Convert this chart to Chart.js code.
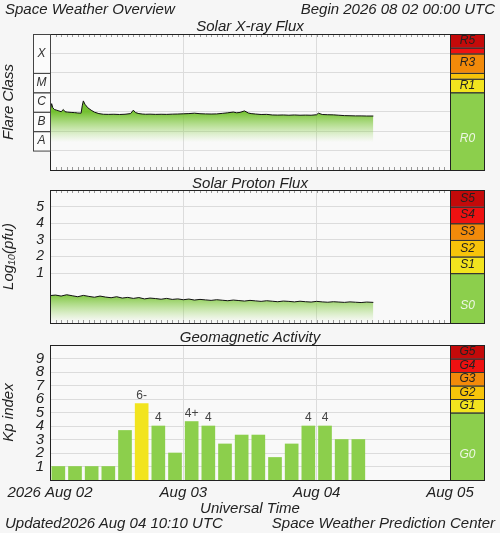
<!DOCTYPE html>
<html><head><meta charset="utf-8">
<script src="https://cdn.jsdelivr.net/npm/chart.js@4"></script>
<style>
body{margin:0;background:#f6f6f6;width:500px;height:533px;overflow:hidden;position:relative;font-family:"Liberation Sans",Arial,sans-serif;font-style:italic;color:#222}
canvas{position:absolute;left:0;top:0}
.t{position:absolute;white-space:nowrap;font-size:15px}
.c{transform:translateX(-50%)}
</style></head><body>
<canvas id="c1" width="500" height="533"></canvas>
<canvas id="c2" width="500" height="533"></canvas>
<canvas id="c3" width="500" height="533"></canvas>
<div class="t" style="left:5px;top:0px">Space Weather Overview</div>
<div class="t" style="right:5px;top:0px">Begin 2026 08 02 00:00 UTC</div>
<div class="t c" style="left:250px;top:17px">Solar X-ray Flux</div>
<div class="t c" style="left:250px;top:174px">Solar Proton Flux</div>
<div class="t c" style="left:250px;top:328px">Geomagnetic Activity</div>
<div class="t c" style="left:250px;top:499px">Universal Time</div>
<div class="t" style="left:5px;top:514px">Updated2026 Aug 04 10:10 UTC</div>
<div class="t" style="right:5px;top:514px">Space Weather Prediction Center</div>
<script>
// ---------- data ----------
const xrayHours = [0,0.3,0.5,0.8,1.2,1.6,2.0,2.4,2.7,3.2,3.8,4.4,5.0,5.6,5.8,6.0,6.3,6.8,7.4,8.0,8.8,9.6,10.5,11.5,12.5,13.5,14.5,15.0,15.4,16.0,16.6,17.2,18.0,19.0,20.0,21.0,22.0,23.0,24.0,25.0,26.0,27.0,28.0,29.0,30.0,31.0,32.0,33.0,33.6,34.2,35.0,35.7,36.2,37.0,38.0,39.0,40.0,41.0,42.0,43.0,44.0,45.0,46.0,47.0,48.0,48.3,49.0,50.0,51.0,52.0,53.0,54.0,55.0,56.0,57.0,58.2];
const xrayFlux = [1.1e-6,2.6e-6,1.6e-6,1.3e-6,1.2e-6,1.1e-6,1.0e-6,1.3e-6,1.0e-6,9.5e-7,9.2e-7,9.0e-7,8.6e-7,8.4e-7,2.0e-6,3.6e-6,2.4e-6,1.6e-6,1.2e-6,9.5e-7,8.0e-7,7.4e-7,7.3e-7,7.4e-7,7.2e-7,7.4e-7,8.0e-7,1.2e-6,9.0e-7,8.0e-7,7.6e-7,7.4e-7,7.5e-7,7.3e-7,7.4e-7,7.3e-7,7.5e-7,7.6e-7,7.8e-7,8.0e-7,8.4e-7,7.9e-7,7.7e-7,7.6e-7,7.7e-7,8.2e-7,8.8e-7,9.6e-7,8.8e-7,9.2e-7,1.1e-6,8.6e-7,8.0e-7,7.6e-7,7.2e-7,7.3e-7,6.8e-7,6.7e-7,6.8e-7,6.6e-7,6.8e-7,6.6e-7,6.7e-7,6.6e-7,7.0e-7,8.4e-7,7.2e-7,7.0e-7,6.9e-7,6.6e-7,6.3e-7,6.2e-7,6.1e-7,6.1e-7,6.0e-7,6.0e-7];
const protonHours = [0,1,2,3,4,5,6,7,8,9,10,11,12,13,14,15,16,17,18,19,20,21,22,23,24,25,26,27,28,29,30,31,32,33,34,35,36,37,38,39,40,41,42,43,44,45,46,47,48,49,50,51,52,53,54,55,56,57,58.2];
const protonLog = [-0.35,-0.32,-0.38,-0.30,-0.36,-0.42,-0.34,-0.40,-0.45,-0.38,-0.44,-0.48,-0.42,-0.50,-0.46,-0.52,-0.47,-0.55,-0.50,-0.53,-0.57,-0.52,-0.58,-0.55,-0.60,-0.56,-0.62,-0.58,-0.61,-0.64,-0.60,-0.63,-0.66,-0.62,-0.65,-0.68,-0.64,-0.67,-0.70,-0.66,-0.69,-0.72,-0.68,-0.70,-0.73,-0.69,-0.72,-0.74,-0.70,-0.73,-0.75,-0.72,-0.74,-0.76,-0.73,-0.75,-0.77,-0.74,-0.76];
const kpValues = [1,1,1,1,3.67,5.67,4,2,4.33,4,2.67,3.33,3.33,1.67,2.67,4,4,3,3];
const kpLabels = ["","","","","","6-","4","","4+","4","","","","","","4","4","",""];
const dayTicks = [0,24,48,72];
const dayLabels = ["2026 Aug 02","Aug 03","Aug 04","Aug 05"];
const flareClasses = ["A","B","C","M","X"];
const flareFrom = [1e-8,1e-7,1e-6,1e-5,1e-4];
const flareTo = [1e-7,1e-6,1e-5,1e-4,1e-2];
const rLabels = ["R0","R1","","R3","","R5"];
const rFrom = [1e-9,1e-5,5e-5,1e-4,1e-3,2e-3];
const rTo = [1e-5,5e-5,1e-4,1e-3,2e-3,1e-2];
const sLabels = ["S0","S1","S2","S3","S4","S5"];
const sFrom = [-2,1,2,3,4,5];
const sTo = [1,2,3,4,5,6];
const gLabels = ["G0","G1","G2","G3","G4","G5"];
const gFrom = [0,5,6,7,8,9];
const gTo = [5,6,7,8,9,10];
const bandColors = ["#8ccf4c","#f2e41e","#f7c40a","#f28a0a","#ee1111","#c40a0a"];

const FONT = {family:"'Liberation Sans', Arial, sans-serif", style:'italic'};
Chart.defaults.font.family = FONT.family;
Chart.defaults.animation = false;

const framePlugin = {
  id:'frame',
  beforeDraw(c){
    const a=c.chartArea, ctx=c.ctx;
    ctx.save(); ctx.fillStyle='#f9f9f9'; ctx.fillRect(a.left,a.top,a.width,a.height); ctx.restore();
  },
  afterDraw(c, args, o){
    const a=c.chartArea, ctx=c.ctx, y=c.scales.y, x=c.scales.x;
    ctx.save();
    if(o.hourTicks){
      ctx.strokeStyle='#999'; ctx.lineWidth=1;
      for(let h=1;h<72;h++){
        const px=Math.round(x.getPixelForValue(h))+0.5;
        ctx.beginPath(); ctx.moveTo(px,a.top); ctx.lineTo(px,a.top+3);
        ctx.moveTo(px,a.bottom); ctx.lineTo(px,a.bottom-3); ctx.stroke();
      }
    }
    const bx=a.right, bw=35;
    for(let i=0;i<o.from.length;i++){
      const y1=y.getPixelForValue(o.to[i]), y0=y.getPixelForValue(o.from[i]);
      const t=Math.max(y1,a.top), b=Math.min(y0,a.bottom);
      ctx.fillStyle=bandColors[i]; ctx.fillRect(bx,t,bw,b-t);
      ctx.strokeStyle='#333'; ctx.lineWidth=1; ctx.strokeRect(bx+0.5,t+0.5,bw-1,b-t);
      if(o.labels[i]){
        ctx.fillStyle=i===0?'#eef7e4':'#222'; ctx.font='italic 12px '+FONT.family;
        ctx.textAlign='center'; ctx.textBaseline='middle';
        ctx.fillText(o.labels[i],bx+bw/2,(t+b)/2+(i===0?8:0));
      }
    }
    ctx.strokeStyle='#222'; ctx.lineWidth=1;
    ctx.strokeRect(bx+0.5,a.top+0.5,bw-1,a.height);
    ctx.strokeRect(a.left+0.5,a.top+0.5,a.width,a.height);
    if(o.classes){
      ctx.font='italic 12px '+FONT.family; ctx.textAlign='center'; ctx.textBaseline='middle';
      for(let i=0;i<flareClasses.length;i++){
        const t=Math.max(y.getPixelForValue(flareTo[i]),a.top), b=y.getPixelForValue(flareFrom[i]);
        ctx.fillStyle='#fbfbfb'; ctx.fillRect(a.left-17,t,17,b-t);
        ctx.strokeStyle='#444'; ctx.strokeRect(a.left-17+0.5,t+0.5,17,b-t);
        ctx.fillStyle='#333'; ctx.fillText(flareClasses[i],a.left-8.5,(t+b)/2);
      }
    }
    if(o.kp){
      const meta=c.getDatasetMeta(0);
      ctx.font='12px '+FONT.family; ctx.fillStyle='#444'; ctx.textAlign='center'; ctx.textBaseline='bottom';
      meta.data.forEach((el,i)=>{ if(kpLabels[i]) ctx.fillText(kpLabels[i],el.x,el.y-2); });
    }
    ctx.restore();
  }
};

function xScale(showTicks){
  return {type:'linear',min:0,max:72,offset:false,
    afterBuildTicks(s){s.ticks=dayTicks.map(v=>({value:v}));},
    afterFit(s){s.height=showTicks?20:0;},
    grid:{color:'#dcdcdc',drawTicks:false,offset:false},border:{display:false},
    ticks:{display:showTicks,padding:4,color:'#222',autoSkip:false,maxRotation:0,font:{size:15,style:'italic'},
      callback:(v)=>dayLabels[dayTicks.indexOf(v)]}};
}
function yTitle(t){return {display:true,text:t,color:'#222',padding:0,font:{size:15,style:'italic'}};}

const g1ctx=document.getElementById('c1').getContext('2d');
const grad1=g1ctx.createLinearGradient(0,112,0,142);
grad1.addColorStop(0,'rgba(110,190,40,0.95)'); grad1.addColorStop(1,'rgba(150,215,90,0.0)');
new Chart(g1ctx,{type:'line',
  data:{datasets:[{data:xrayHours.map((h,i)=>({x:h,y:xrayFlux[i]})),borderColor:'#111',borderWidth:1,pointRadius:0,fill:'start',backgroundColor:grad1,tension:0}]},
  options:{responsive:false,layout:{padding:{top:34,bottom:363,right:50,left:0}},
    plugins:{legend:{display:false},tooltip:{enabled:false},frame:{from:rFrom,to:rTo,labels:rLabels,classes:true,hourTicks:true}},
    scales:{x:xScale(false),
      y:{type:'logarithmic',min:1e-9,max:1e-2,afterFit(s){s.width=50;},
        afterBuildTicks(s){s.ticks=[1e-8,1e-7,1e-6,1e-5,1e-4,1e-3].map(v=>({value:v}));},
        grid:{color:'#dcdcdc',drawTicks:false},border:{display:false},ticks:{display:false},
        title:yTitle('Flare Class')}}},
  plugins:[framePlugin]});

const g2ctx=document.getElementById('c2').getContext('2d');
const grad2=g2ctx.createLinearGradient(0,293,0,322);
grad2.addColorStop(0,'rgba(110,190,40,0.95)'); grad2.addColorStop(1,'rgba(150,215,90,0.0)');
new Chart(g2ctx,{type:'line',
  data:{datasets:[{data:protonHours.map((h,i)=>({x:h,y:protonLog[i]})),borderColor:'#111',borderWidth:1,pointRadius:0,fill:'start',backgroundColor:grad2,tension:0}]},
  options:{responsive:false,layout:{padding:{top:190,bottom:210,right:50,left:0}},
    plugins:{legend:{display:false},tooltip:{enabled:false},frame:{from:sFrom,to:sTo,labels:sLabels,hourTicks:true}},
    scales:{x:xScale(false),
      y:{type:'linear',min:-2,max:6,afterFit(s){s.width=50;},
        afterBuildTicks(s){s.ticks=[1,2,3,4,5].map(v=>({value:v}));},
        grid:{color:'#dcdcdc',drawTicks:false},border:{display:false},
        ticks:{color:'#222',padding:6,autoSkip:false,font:{size:14,style:'italic'}},
        title:yTitle('Log₁₀(pfu)')}}},
  plugins:[framePlugin]});

new Chart(document.getElementById('c3'),{type:'bar',
  data:{datasets:[{data:kpValues.map((v,i)=>({x:i*3+1.5,y:v})),
    backgroundColor:kpValues.map(v=>v>=5?'#f2e41e':'#8ccf4c'),barThickness:13,borderWidth:0}]},
  options:{responsive:false,layout:{padding:{top:345,bottom:33,right:50,left:0}},
    plugins:{legend:{display:false},tooltip:{enabled:false},frame:{from:gFrom,to:gTo,labels:gLabels,kp:true}},
    scales:{x:xScale(true),
      y:{type:'linear',min:0,max:10,afterFit(s){s.width=50;},
        afterBuildTicks(s){s.ticks=[1,2,3,4,5,6,7,8,9].map(v=>({value:v}));},
        grid:{color:'#dcdcdc',drawTicks:false},border:{display:false},
        ticks:{color:'#222',padding:6,autoSkip:false,font:{size:15,style:'italic'}},
        title:yTitle('Kp index')}}},
  plugins:[framePlugin]});
</script></body></html>
